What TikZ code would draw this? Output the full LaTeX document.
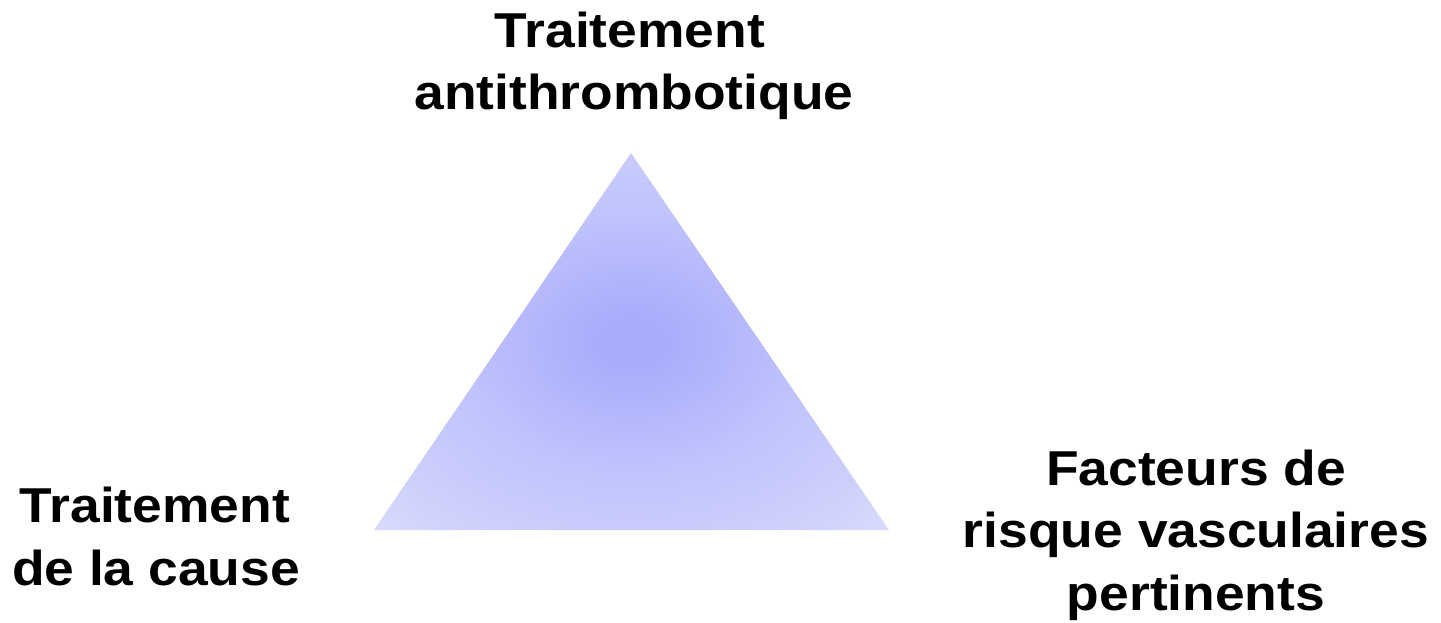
\documentclass[tikz,border=0pt]{standalone}
\usepackage{fontspec}
\setmainfont{Liberation Sans}
\definecolor{cin}{RGB}{168,172,252}
\definecolor{cmid}{RGB}{192,195,252}
\definecolor{cbase}{RGB}{204,206,252}
\definecolor{cout}{RGB}{224,225,252}
\pgfdeclareradialshading{trishade}{\pgfpoint{0bp}{0bp}}{color(0bp)=(cin); color(3bp)=(cin); color(17bp)=(cmid); color(27bp)=(cbase); color(40bp)=(cout); color(50bp)=(cout)}
\newcommand{\wide}[1]{\scalebox{1.09}[1]{#1}}
\tikzset{
  lbl/.style={anchor=base, inner sep=0pt, font=\fontsize{49}{63}\selectfont\bfseries, text=black},
}
\begin{document}
\begin{tikzpicture}[x=1pt,y=-1pt]
\useasboundingbox (0,0) rectangle (1441,623);
\coordinate (A) at (631,153);
\coordinate (B) at (374,530);
\coordinate (C) at (889,530);
\shade[shading=trishade] (A) -- (C) -- (B) -- cycle;
\node[lbl] (t1) at (630,48) {\wide{Traitement}};
\node[lbl] (t2) at (634,110) {\wide{antithrombotique}};
\node[lbl] (l1) at (155,522) {\wide{Traitement}};
\node[lbl] (l2) at (156,585) {\wide{de la cause}};
\node[lbl] (r1) at (1196,485) {\wide{Facteurs de}};
\node[lbl] (r2) at (1196,547) {\wide{risque vasculaires}};
\node[lbl] (r3) at (1196,610) {\wide{pertinents}};
\end{tikzpicture}
\end{document}
